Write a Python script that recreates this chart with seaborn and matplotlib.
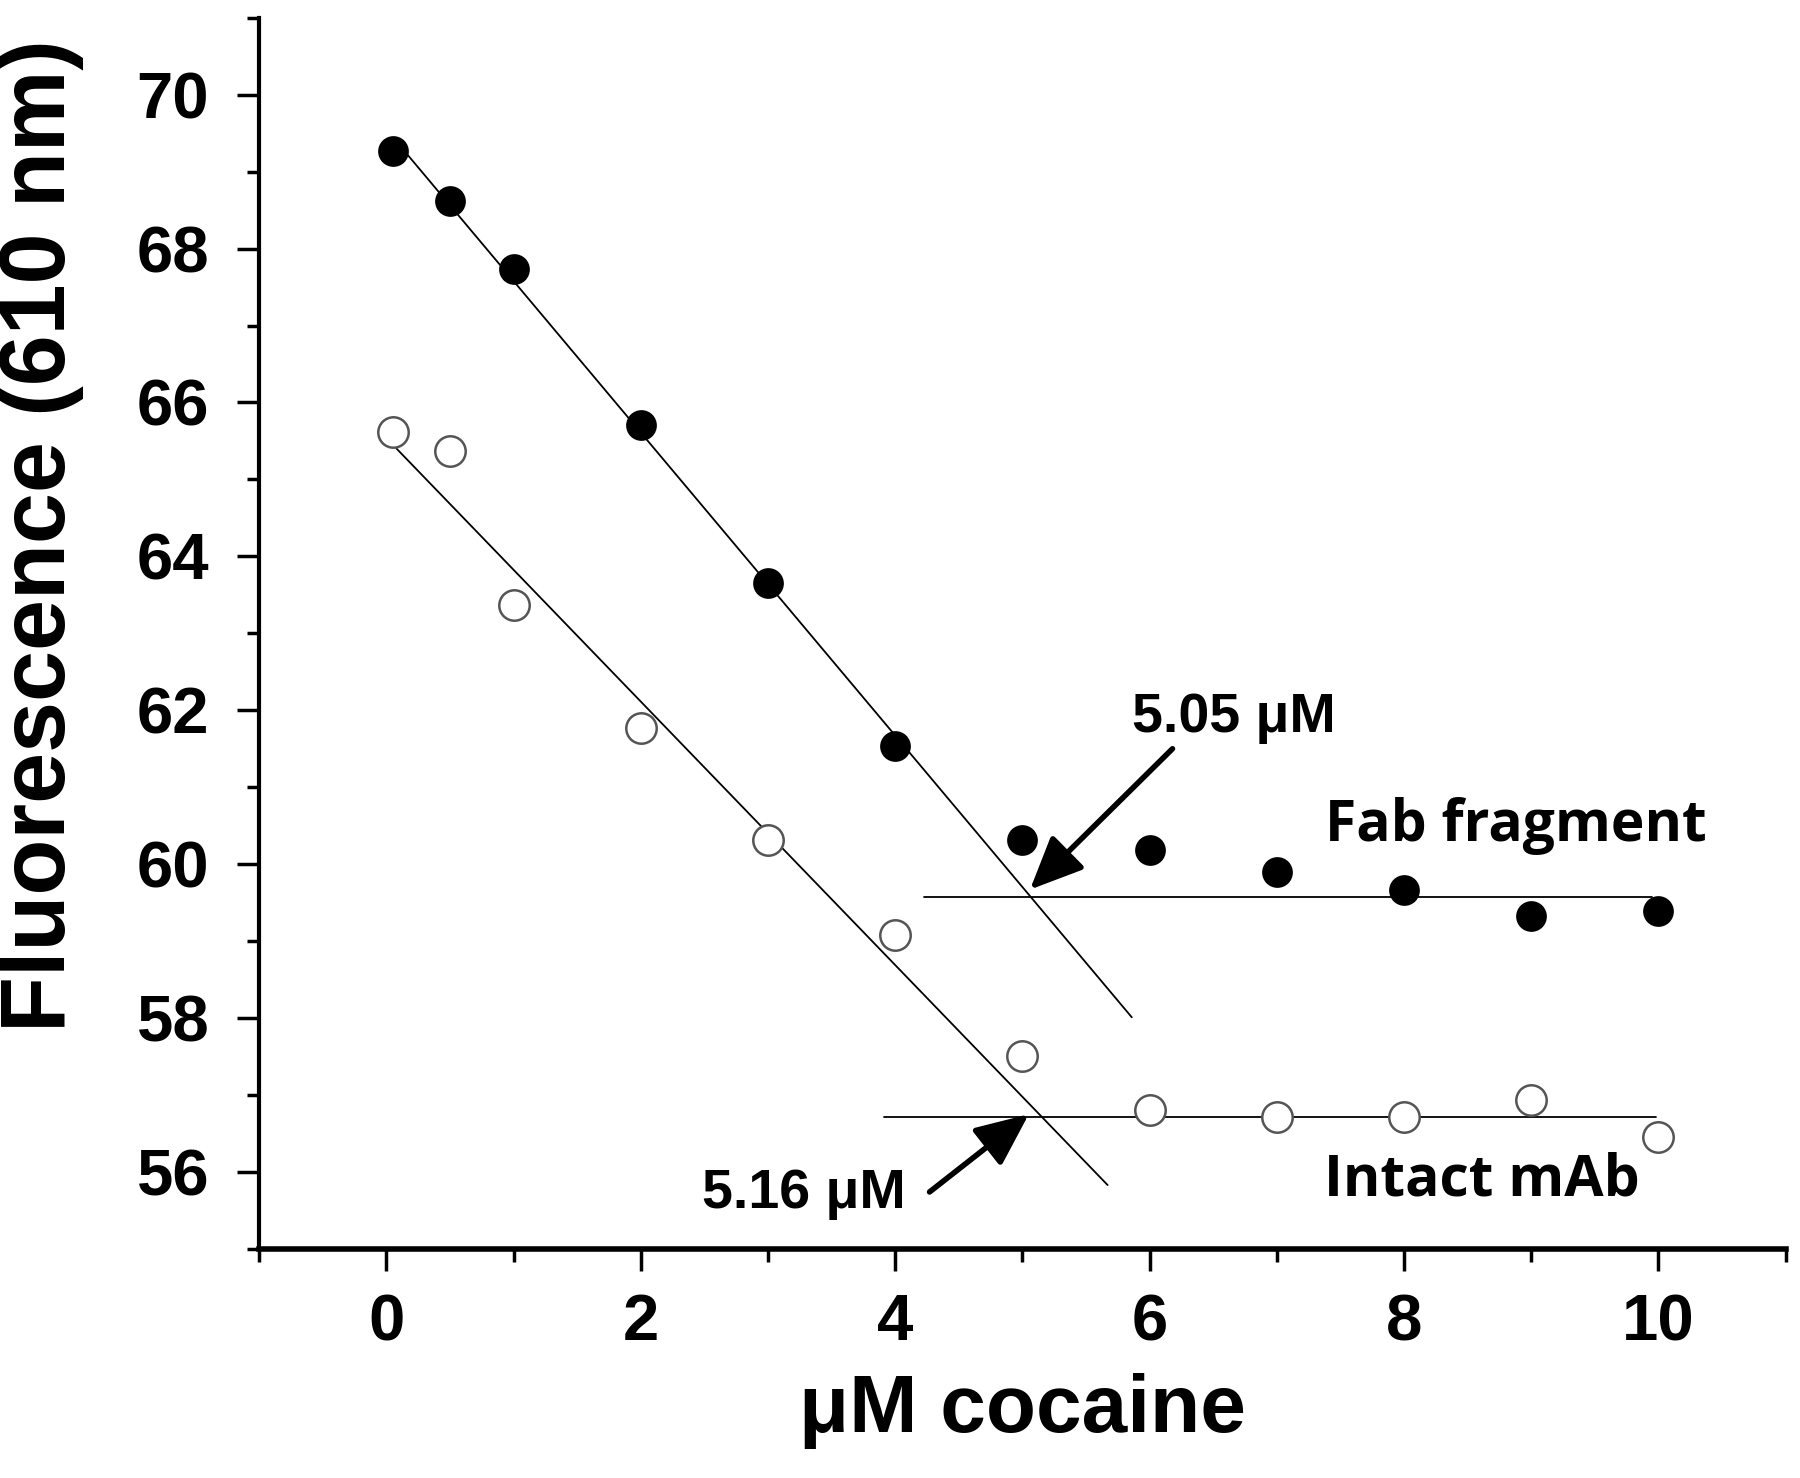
import numpy as np
import pandas as pd
import matplotlib
matplotlib.use("Agg")
import matplotlib.pyplot as plt
import seaborn as sns
from matplotlib.ticker import MultipleLocator

# data
conc = [0.05, 0.5, 1, 2, 3, 4, 5, 6, 7, 8, 9, 10]
fab = [69.27, 68.62, 67.74, 65.71, 63.66, 61.54, 60.31, 60.19, 59.90, 59.66, 59.33, 59.39]
intact = [65.62, 65.37, 63.37, 61.77, 60.31, 59.08, 57.51, 56.80, 56.72, 56.72, 56.93, 56.45]

# fitted lines (end points)
fab_slope_x = [0.11, 5.86]
fab_slope_y = [69.33, 58.01]
fab_flat_x = [4.23, 9.95]
fab_flat_y = [59.57, 59.57]
int_slope_x = [0.08, 5.67]
int_slope_y = [65.40, 55.83]
int_flat_x = [3.91, 9.98]
int_flat_y = [56.71, 56.71]

sns.set_style("ticks")
plt.rcParams["font.family"] = ["Liberation Sans", "DejaVu Sans"]
plt.rcParams["text.color"] = "black"
plt.rcParams["axes.labelcolor"] = "black"
plt.rcParams["xtick.color"] = "black"
plt.rcParams["ytick.color"] = "black"
plt.rcParams["axes.edgecolor"] = "black"

fig, ax = plt.subplots(figsize=(18, 14.78), dpi=100)
fig.subplots_adjust(left=0.144, right=0.992, top=0.988, bottom=0.155)

df = pd.DataFrame({"conc": conc, "fab": fab, "intact": intact})

for xs, ys in [(fab_slope_x, fab_slope_y), (fab_flat_x, fab_flat_y),
               (int_slope_x, int_slope_y), (int_flat_x, int_flat_y)]:
    ax.plot(xs, ys, color="black", lw=1.3, zorder=1)

sns.scatterplot(data=df, x="conc", y="fab", ax=ax, s=420, color="black",
                edgecolor="black", zorder=3)
sns.scatterplot(data=df, x="conc", y="intact", ax=ax, s=480, facecolor="white",
                edgecolor="#555555", linewidth=1.8, zorder=3)

ax.set_xlim(-1, 11)
ax.set_ylim(55, 71)
ax.xaxis.set_minor_locator(MultipleLocator(1))
ax.yaxis.set_minor_locator(MultipleLocator(1))
ax.set_yticks([56, 58, 60, 62, 64, 66, 68, 70])
ax.set_xticks([0, 2, 4, 6, 8, 10])

sns.despine(ax=ax)
ax.spines["left"].set_linewidth(3)
ax.spines["bottom"].set_linewidth(4)
ax.tick_params(axis="both", which="major", direction="out", length=16, width=2.5,
               labelsize=47, pad=16)
ax.tick_params(axis="y", which="major", pad=20)
ax.tick_params(axis="both", which="minor", direction="out", length=9, width=2.5)
for lab in ax.get_xticklabels() + ax.get_yticklabels():
    lab.set_fontweight("bold")

ax.set_xlabel("\u03bcM cocaine", fontsize=59, fontweight="bold", labelpad=14)
ax.set_ylabel("Fluorescence (610 nm)", fontsize=66, fontweight="bold")
ax.yaxis.set_label_coords(-0.115, 0.579)

ax.text(6.66, 61.9, "5.05 \u03bcM", fontsize=40, fontweight="bold",
        ha="center", va="center")
ax.text(3.28, 55.71, "5.16 \u03bcM", fontsize=40, fontweight="bold",
        ha="center", va="center")
arrow = dict(arrowstyle="-|>,head_length=0.9,head_width=0.4", color="black",
             lw=4, mutation_scale=36, shrinkA=0, shrinkB=0)
ax.annotate("", xy=(5.06, 59.67), xytext=(6.18, 61.5), arrowprops=arrow)
ax.annotate("", xy=(5.05, 56.75), xytext=(4.27, 55.74), arrowprops=arrow)

ax.text(8.88, 60.5, "Fab fragment", fontsize=41, fontweight="bold",
        ha="center", va="center", family=["Open Sans", "DejaVu Sans"])
ax.text(8.61, 55.89, "Intact mAb", fontsize=41, fontweight="bold",
        ha="center", va="center", family=["Open Sans", "DejaVu Sans"])

fig.savefig("out.png", dpi=100)
